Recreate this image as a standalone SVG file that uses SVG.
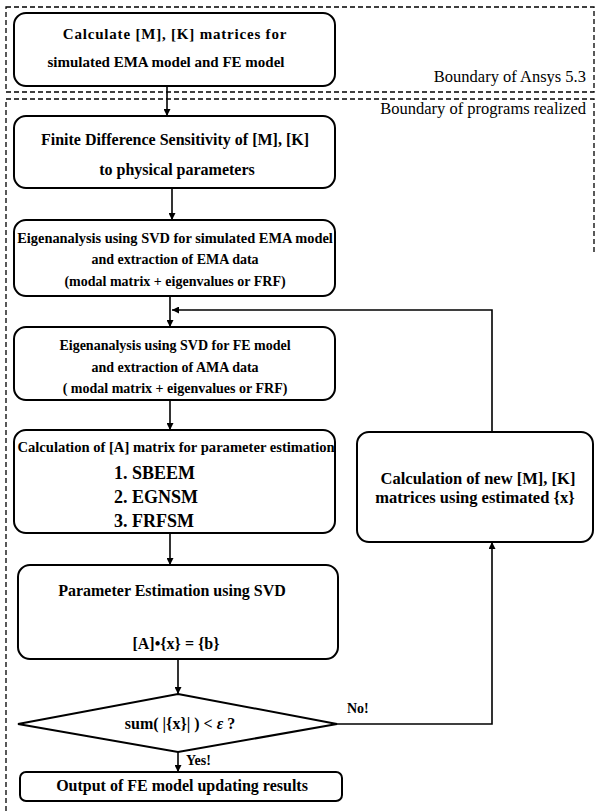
<svg xmlns="http://www.w3.org/2000/svg" width="598" height="811" viewBox="0 0 598 811">
<defs>
<marker id="ah" viewBox="0 0 10 10" refX="10" refY="5" markerWidth="7" markerHeight="7" markerUnits="userSpaceOnUse" orient="auto">
<path d="M0,0 L10,5 L0,10 z" fill="#000"/>
</marker>
<style>
.box{fill:#fff;stroke:#000;stroke-width:2}
.bnd{fill:none;stroke:#000;stroke-width:1.3;stroke-dasharray:5,3}
.t{font-family:"Liberation Serif","Times New Roman",serif;font-weight:bold;font-size:14px;fill:#000;text-anchor:middle}
.tl{font-family:"Liberation Serif","Times New Roman",serif;font-size:16.5px;fill:#000;text-anchor:end}
.c{fill:none;stroke:#000;stroke-width:1.6}
.lab{font-family:"Liberation Serif","Times New Roman",serif;font-weight:bold;font-size:14px;fill:#000}
</style>
</defs>
<rect width="598" height="811" fill="#fff"/>
<g id="boundary-ansys">
<rect class="bnd" x="6" y="7" width="588" height="85"/>
<text class="tl" x="586" y="82">Boundary of Ansys 5.3</text>
</g>
<g id="boundary-programs">
<path class="bnd" d="M6,811 L6,99 L594,99 L594,255"/>
<text class="tl" x="586" y="114">Boundary of programs realized</text>
</g>
<g id="n1">
<rect class="box" x="14" y="13" width="321" height="73" rx="12"/>
<text class="t" x="175" y="39" style="font-size:15px;letter-spacing:0.8px">Calculate [M], [K] matrices for</text>
<text class="t" x="166" y="67" style="font-size:15px">simulated EMA model and FE model</text>
</g>
<g id="n2">
<rect class="box" x="14" y="116" width="321" height="72" rx="12"/>
<text class="t" x="175" y="145" style="font-size:16px">Finite Difference Sensitivity of [M], [K]</text>
<text class="t" x="177" y="175" style="font-size:16px">to physical parameters</text>
</g>
<g id="n3">
<rect class="box" x="14" y="220" width="321" height="76" rx="12"/>
<text class="t" x="175" y="243" style="font-size:14.4px">Eigenanalysis using SVD for simulated EMA model</text>
<text class="t" x="175" y="264">and extraction of EMA data</text>
<text class="t" x="175" y="286">(modal matrix + eigenvalues or FRF)</text>
</g>
<g id="n4">
<rect class="box" x="14" y="327" width="321" height="73" rx="12"/>
<text class="t" x="175" y="350">Eigenanalysis using SVD for FE model</text>
<text class="t" x="175" y="372">and extraction of AMA data</text>
<text class="t" x="175" y="393">( modal matrix + eigenvalues or FRF)</text>
</g>
<g id="n5">
<rect class="box" x="14" y="430" width="321" height="103" rx="12"/>
<text class="t" x="176" y="452" style="font-size:14.6px">Calculation of [A] matrix for parameter estimation</text>
<text class="t" x="114" y="479" style="text-anchor:start;font-size:18px">1. SBEEM</text>
<text class="t" x="114" y="503" style="text-anchor:start;font-size:18px">2. EGNSM</text>
<text class="t" x="114" y="527" style="text-anchor:start;font-size:18px">3. FRFSM</text>
</g>
<g id="n6">
<rect class="box" x="18" y="565" width="320" height="94" rx="12"/>
<text class="t" x="172" y="596" style="font-size:16px">Parameter Estimation using SVD</text>
<text class="t" x="176" y="649" style="font-size:16px">[A]•{x} = {b}</text>
</g>
<g id="n7">
<polygon class="box" points="178,694 337,724 178,752 18,724"/>
<text class="t" x="180" y="729" style="font-size:16px">sum( |{x}| ) &lt; <tspan font-style="italic">ε</tspan>  ?</text>
</g>
<g id="n8">
<rect class="box" x="20" y="772" width="322" height="29" rx="6"/>
<text class="t" x="182" y="791" style="font-size:16px">Output of FE model updating results</text>
</g>
<g id="n9">
<rect class="box" x="357" y="432" width="236" height="110" rx="12"/>
<text class="t" x="478" y="484" style="font-size:16.5px">Calculation of new [M], [K]</text>
<text class="t" x="475" y="503" style="font-size:16.5px">matrices using estimated {x}</text>
</g>
<g id="connectors">
<line class="c" x1="167" y1="86" x2="167" y2="116" marker-end="url(#ah)"/>
<line class="c" x1="172" y1="188" x2="172" y2="220" marker-end="url(#ah)"/>
<line class="c" x1="170" y1="296" x2="170" y2="327" marker-end="url(#ah)"/>
<line class="c" x1="170" y1="400" x2="170" y2="430" marker-end="url(#ah)"/>
<line class="c" x1="170" y1="533" x2="170" y2="565" marker-end="url(#ah)"/>
<line class="c" x1="178" y1="659" x2="178" y2="694" marker-end="url(#ah)"/>
<line class="c" x1="178" y1="752" x2="178" y2="772" marker-end="url(#ah)"/>
<polyline class="c" points="337,724 492,724 492,542" marker-end="url(#ah)"/>
<polyline class="c" points="492,432 492,310 172,310" marker-end="url(#ah)"/>
<text class="lab" x="347" y="713">No!</text>
<text class="lab" x="186" y="765">Yes!</text>
</g>
</svg>
